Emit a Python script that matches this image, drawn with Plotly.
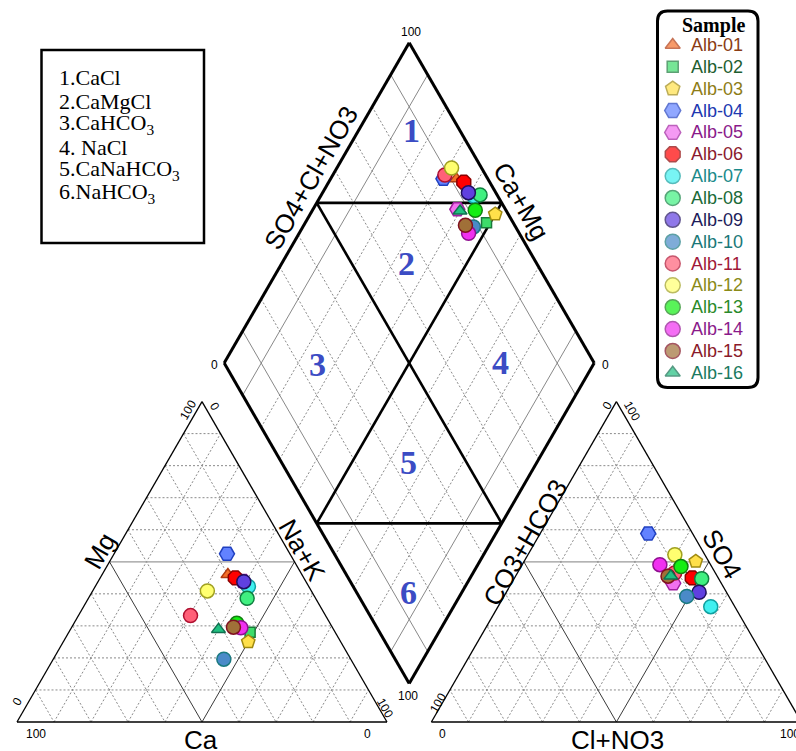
import numpy as np
import plotly.graph_objects as go

# ---------------- sample data (meq % ) ----------------
samples = ["Alb-01", "Alb-02", "Alb-03", "Alb-04", "Alb-05", "Alb-06", "Alb-07", "Alb-08",
           "Alb-09", "Alb-10", "Alb-11", "Alb-12", "Alb-13", "Alb-14", "Alb-15", "Alb-16"]
ca   = [20.0, 23.0, 25.0, 17.0, 17.0, 18.5, 16.3, 18.5, 16.8, 34.3, 36.5, 28.1, 25.2, 24.8, 26.7, 31.1]
mg   = [46.0, 28.0, 25.0, 52.5, 44.0, 45.0, 42.3, 38.6, 43.8, 19.6, 33.2, 40.9, 30.8, 29.4, 29.6, 28.9]
nak  = [34.0, 49.0, 50.0, 30.5, 39.0, 36.5, 41.4, 42.9, 39.4, 46.1, 30.3, 31.0, 44.0, 45.8, 43.7, 40.0]
hco3 = [8.5, 7.2, 3.5, 12.0, 13.0, 7.0, 6.5, 4.6, 7.4, 11.4, 11.0, 8.1, 8.3, 13.7, 13.3, 12.5]
cl   = [43.0, 47.8, 46.4, 29.2, 43.7, 48.0, 57.5, 50.7, 52.1, 49.4, 42.5, 39.7, 43.2, 37.2, 41.2, 41.9]
so4  = [48.5, 45.0, 50.1, 58.8, 43.3, 45.0, 36.0, 44.7, 40.5, 39.2, 46.5, 52.2, 48.5, 49.1, 45.5, 45.6]

symbols = ["triangle-up", "square", "pentagon", "hexagon2", "hexagon2", "octagon", "circle", "circle",
           "circle", "circle", "circle", "circle", "circle", "circle", "circle", "triangle-up"]
fills = ["#f4702a", "#3ddc6a", "#ffe04a", "#6282ff", "#f270f0", "#ff0000", "#40f0f0", "#40f080",
         "#6040e0", "#4a8ac8", "#ff6078", "#ffff70", "#14ee14", "#f030f0", "#a07038", "#20c080"]
edges = ["#b03a10", "#1a7a3a", "#a08a10", "#2040c0", "#a020a0", "#8b0000", "#10a0a0", "#108040",
         "#201060", "#1a7a80", "#b01030", "#a0a020", "#108010", "#901090", "#801020", "#107050"]
label_colors = ["#8a3c14", "#1e5e30", "#8e7c16", "#2038b0", "#8a1a8a", "#8b1a2e", "#1a8a8a", "#1a6a38",
                "#1c1c5a", "#1a7878", "#a01838", "#8a8a18", "#2a8a2a", "#8a1a8a", "#8a1a2a", "#1a7a60"]
sizes = [12, 10, 14, 15, 15, 15, 14, 14, 14, 14, 14, 14, 14, 14, 14, 12]

facies = ["1.CaCl", "2.CaMgCl", "3.CaHCO<sub>3</sub>", "4. NaCl",
          "5.CaNaHCO<sub>3</sub>", "6.NaHCO<sub>3</sub>"]

# ---------------- geometry ----------------
W, H = 796, 751
PX = 3.7              # pixels per axis unit
X0, Y0 = 17.0, 722.0  # pixel position of the cation triangle's lower-left corner
G = 12.0              # gap between the two ternary plots
S3 = np.sqrt(3) / 2


def cat_xy(c, m, n):
    return n + m / 2.0, m * S3


def an_xy(h, c, s):
    return 100 + G + c + s / 2.0, s * S3


def dia_xy(n, a):
    return (n + 100 + G + a) / 2.0, S3 * (100 + G + a - n)


def to_data(xp, yp):
    return (xp - X0) / PX, (Y0 - yp) / PX


def to_paper(xp, yp):
    return xp / W, 1 - yp / H


fig = go.Figure()


def add_lines(segs, **line):
    xs, ys = [], []
    for p, q in segs:
        xs += [p[0], q[0], None]
        ys += [p[1], q[1], None]
    fig.add_trace(go.Scatter(x=xs, y=ys, mode="lines", line=line,
                             hoverinfo="skip", showlegend=False))


dashed, gray50, dark50, thin_dia = [], [], [], []
for p in range(10, 100, 10):
    q = 100 - p
    lines_cat = {
        "mg": (cat_xy(q, p, 0), cat_xy(0, p, q)),
        "na": (cat_xy(q, 0, p), cat_xy(0, q, p)),
        "ca": (cat_xy(p, q, 0), cat_xy(p, 0, q)),
    }
    lines_an = {
        "so4": (an_xy(q, 0, p), an_xy(0, q, p)),
        "cl": (an_xy(q, p, 0), an_xy(0, p, q)),
        "hco3": (an_xy(p, q, 0), an_xy(p, 0, q)),
    }
    for k, s in lines_cat.items():
        if p == 50:
            (gray50 if k == "mg" else dark50).append(s)
        else:
            dashed.append(s)
    for k, s in lines_an.items():
        if p == 50:
            (gray50 if k == "so4" else dark50).append(s)
        else:
            dashed.append(s)
    if p != 50:
        d1 = (dia_xy(p, 0), dia_xy(p, 100))
        d2 = (dia_xy(0, p), dia_xy(100, p))
        if p in (10, 90):
            thin_dia += [d1, d2]
        else:
            dashed += [d1, d2]

add_lines(dashed, color="#8a8a8a", width=1, dash="2px,2px")
add_lines(thin_dia, color="#7a7a7a", width=0.9)
add_lines(gray50, color="#9a9a9a", width=1.2)
add_lines(dark50, color="#3a3a3a", width=1)

# ternary outlines
tri_c = [cat_xy(100, 0, 0), cat_xy(0, 0, 100), cat_xy(0, 100, 0), cat_xy(100, 0, 0)]
tri_a = [an_xy(100, 0, 0), an_xy(0, 100, 0), an_xy(0, 0, 100), an_xy(100, 0, 0)]
add_lines(list(zip(tri_c[:-1], tri_c[1:])) + list(zip(tri_a[:-1], tri_a[1:])),
          color="black", width=1.3)

# diamond outline and facies boundaries
dia = [dia_xy(100, 0), dia_xy(0, 0), dia_xy(0, 100), dia_xy(100, 100), dia_xy(100, 0)]
inner = [(dia_xy(0, 50), dia_xy(100, 50)), (dia_xy(50, 0), dia_xy(50, 100)),
         (dia_xy(0, 50), dia_xy(50, 100)), (dia_xy(50, 0), dia_xy(100, 50))]
add_lines(inner, color="black", width=2.6)
add_lines(list(zip(dia[:-1], dia[1:])), color="black", width=3)

# ---------------- samples ----------------
for i, name in enumerate(samples):
    pc = cat_xy(ca[i], mg[i], nak[i])
    pa = an_xy(hco3[i], cl[i], so4[i])
    pd = dia_xy(nak[i], cl[i] + so4[i])
    fig.add_trace(go.Scatter(
        x=[pc[0], pa[0], pd[0]], y=[pc[1], pa[1], pd[1]], mode="markers", name=name,
        marker=dict(symbol=symbols[i], size=sizes[i], color=fills[i],
                    line=dict(color=edges[i], width=1.5)),
        showlegend=False))

# ---------------- legend panel ----------------
LEG_X, LEG_Y0, LEG_DY = 672.7, 45.0, 21.85
leg_pts = [to_data(LEG_X, LEG_Y0 + LEG_DY * i) for i in range(len(samples))]
fig.add_trace(go.Scatter(
    x=[p[0] for p in leg_pts], y=[p[1] for p in leg_pts], mode="markers",
    marker=dict(symbol=symbols, size=[s + 1 for s in sizes], color=fills,
                line=dict(color=edges, width=1.5)),
    hoverinfo="skip", showlegend=False))

annotations = []


def txt(xp, yp, text, size, color="black", angle=0, family="Liberation Sans",
        xanchor="center", yanchor="middle"):
    x, y = to_paper(xp, yp)
    annotations.append(dict(x=x, y=y, xref="paper", yref="paper", text=text, showarrow=False,
                            textangle=angle, xanchor=xanchor, yanchor=yanchor,
                            font=dict(size=size, color=color, family=family)))


txt(713, 26, "<b>Sample</b>", 20, family="Liberation Serif")
for i, name in enumerate(samples):
    txt(689, LEG_Y0 + LEG_DY * i, name, 18, color=label_colors[i], xanchor="left")

# facies key
for i, f in enumerate(facies):
    txt(57, 78 + 23 * i, f, 22, family="Liberation Serif", xanchor="left")

# facies numbers in the diamond
num_pos = [(411, 130), (406, 263), (317, 365), (500, 362), (408, 462), (408, 592)]
for i, (xp, yp) in enumerate(num_pos):
    txt(xp, yp, "<b>%d</b>" % (i + 1), 34, color="#3b4cc4", family="Liberation Serif")

# axis titles
TT = 26
txt(100, 551, "Mg", TT, angle=-60)
txt(302, 550, "Na+K", TT, angle=60)
txt(201, 740, "Ca", TT)
txt(311, 178, "SO4+Cl+NO3", TT, angle=-60)
txt(521, 201, "Ca+Mg", TT, angle=60)
txt(525, 543, "CO3+HCO3", TT, angle=-60)
txt(722, 554, "SO4", TT, angle=60)
txt(617, 740, "Cl+NO3", TT)

# corner values
TS = 12
txt(188, 410, "100", TS, angle=-60)
txt(215, 407, "0", TS, angle=60)
txt(17, 702, "0", TS, angle=-60)
txt(36, 734, "100", TS)
txt(367, 734, "0", TS)
txt(385, 708, "100", TS, angle=60)
txt(607, 406, "0", TS, angle=-60)
txt(632, 411, "100", TS, angle=60)
txt(438, 703, "100", TS, angle=-60)
txt(442, 734, "0", TS)
txt(790, 734, "100", TS)
txt(411, 32, "100", TS)
txt(214, 365, "0", TS)
txt(605, 365, "0", TS)
txt(408, 696, "100", TS)

# ---------------- frames ----------------
shapes = []
bx0, by0 = to_paper(41.5, 50)
bx1, by1 = to_paper(204, 243)
shapes.append(dict(type="rect", xref="paper", yref="paper", x0=bx0, y0=by1, x1=bx1, y1=by0,
                   line=dict(color="black", width=2.5)))

# rounded legend frame, built in data units (equal scale on both axes)
lx0, ly0, lx1, ly1, r = 657.5, 11, 758, 387.5, 10
path = []
pts = [("M", lx0 + r, ly0), ("L", lx1 - r, ly0), ("Q", lx1, ly0, lx1, ly0 + r),
       ("L", lx1, ly1 - r), ("Q", lx1, ly1, lx1 - r, ly1), ("L", lx0 + r, ly1),
       ("Q", lx0, ly1, lx0, ly1 - r), ("L", lx0, ly0 + r), ("Q", lx0, ly0, lx0 + r, ly0)]
for seg in pts:
    cmd, coords = seg[0], seg[1:]
    conv = []
    for k in range(0, len(coords), 2):
        dx, dy = to_data(coords[k], coords[k + 1])
        conv.append("%.4f,%.4f" % (dx, dy))
    path.append(cmd + " ".join(conv))
shapes.append(dict(type="path", xref="x", yref="y", path=" ".join(path) + " Z",
                   line=dict(color="black", width=3), layer="below"))

xr = [-X0 / PX, (W - X0) / PX]
yr = [-(H - Y0) / PX, Y0 / PX]
fig.update_layout(
    width=W, height=H, margin=dict(l=0, r=0, t=0, b=0),
    paper_bgcolor="white", plot_bgcolor="white",
    xaxis=dict(range=xr, visible=False, fixedrange=True),
    yaxis=dict(range=yr, visible=False, fixedrange=True),
    annotations=annotations, shapes=shapes, showlegend=False,
)

fig.write_html("out.html")
